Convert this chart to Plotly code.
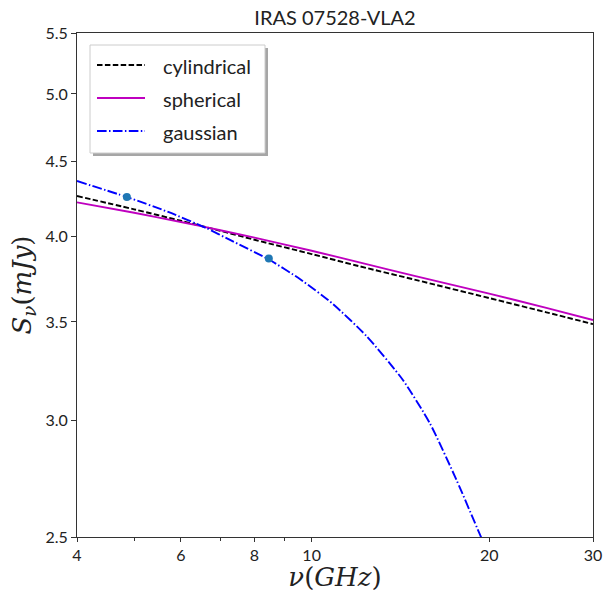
import plotly.graph_objects as go

# ---- data ----
freq_cyl = [4, 5, 6, 7, 8, 10, 12, 15, 20, 25, 30]
flux_cyl = [4.262, 4.174, 4.100, 4.036, 3.980, 3.892, 3.820, 3.738, 3.633, 3.553, 3.488]

freq_sph = [4, 5, 6, 7, 8, 10, 12, 15, 20, 25, 30]
flux_sph = [4.220, 4.152, 4.092, 4.040, 3.993, 3.912, 3.843, 3.760, 3.658, 3.578, 3.510]

freq_gau = [4.0, 4.86, 5.71, 6.64, 7.27, 8.46, 9.55, 10.87, 12.39, 14.29, 15.87, 17.60, 19.28, 19.8]
flux_gau = [4.363, 4.255, 4.157, 4.052, 3.979, 3.859, 3.743, 3.599, 3.423, 3.195, 2.986, 2.734, 2.511, 2.45]

freq_obs = [4.86, 8.46]
flux_obs = [4.255, 3.865]

x_tickvals = [4, 6, 8, 10, 20, 30]
x_ticktext = ["4", "6", "8", "10", "20", "30"]
x_minorvals = [5, 7, 9]
y_tickvals = [2.5, 3.0, 3.5, 4.0, 4.5, 5.0, 5.5]
y_ticktext = ["2.5", "3.0", "3.5", "4.0", "4.5", "5.0", "5.5"]

title_text = "IRAS 07528-VLA2"
legend_names = ["cylindrical", "spherical", "gaussian"]
legend_colors = ["black", "#bf00bf", "#0000ff"]
legend_dashes = ["5.5px,2.4px", "solid", "9.6px,2.4px,1.5px,2.4px"]

FONT = "Lato, sans-serif"
W, H = 605, 592
ML, MR, MT, MB = 77, 12, 33, 55
PW, PH = W - ML - MR, H - MT - MB


def px(x):
    return (x - ML) / PW


def py(y):
    return (H - MB - y) / PH


fig = go.Figure()
fig.add_trace(go.Scatter(x=freq_cyl, y=flux_cyl, mode="lines", name=legend_names[0],
                         line=dict(color=legend_colors[0], width=1.9, dash=legend_dashes[0],
                                   shape="spline", smoothing=0.8)))
fig.add_trace(go.Scatter(x=freq_sph, y=flux_sph, mode="lines", name=legend_names[1],
                         line=dict(color=legend_colors[1], width=1.9,
                                   shape="spline", smoothing=0.8)))
fig.add_trace(go.Scatter(x=freq_gau, y=flux_gau, mode="lines", name=legend_names[2],
                         line=dict(color=legend_colors[2], width=1.9, dash=legend_dashes[2],
                                   shape="spline", smoothing=0.6)))
fig.add_trace(go.Scatter(x=freq_obs, y=flux_obs, mode="markers", showlegend=False,
                         marker=dict(color="#1f77b4", size=8)))

# hand-drawn legend box (matplotlib style with shadow)
shapes = [
    dict(type="rect", xref="paper", yref="paper", x0=px(93), x1=px(268), y0=py(156), y1=py(48),
         fillcolor="rgba(0,0,0,0.35)", line=dict(width=0), layer="above"),
    dict(type="rect", xref="paper", yref="paper", x0=px(90), x1=px(265), y0=py(153), y1=py(45),
         fillcolor="white", line=dict(color="#cccccc", width=1), layer="above"),
]
annotations = []
rows = [65, 98, 131]
for name, col, dsh, r in zip(legend_names, legend_colors, legend_dashes, rows):
    shapes.append(dict(type="line", xref="paper", yref="paper", x0=px(97), x1=px(145),
                       y0=py(r), y1=py(r), line=dict(color=col, width=1.9, dash=dsh), layer="above"))
    annotations.append(dict(text=name, xref="paper", yref="paper", x=px(161), y=py(r + 1),
                            xanchor="left", yanchor="middle", showarrow=False,
                            font=dict(size=20, family=FONT, color="#222")))

fig.update_layout(
    autosize=True,
    margin=dict(l=ML, r=MR, t=MT, b=MB, autoexpand=False),
    paper_bgcolor="white", plot_bgcolor="white",
    font=dict(family=FONT, size=16, color="#222"),
    title=dict(text=title_text, x=(ML + PW / 2) / W, xanchor="center",
               y=1 - 18 / H, yanchor="middle", font=dict(size=20, family=FONT, color="#222")),
    showlegend=False,
    shapes=shapes,
    annotations=annotations,
)

fig.update_xaxes(type="log", range=[0.60206, 1.47712],
                 tickvals=x_tickvals, ticktext=x_ticktext,
                 ticks="outside", ticklen=4, tickcolor="#333",
                 minor=dict(tickvals=x_minorvals, ticks="outside", ticklen=3, tickcolor="#333",
                            showgrid=False),
                 showline=True, linecolor="#333", linewidth=1, mirror=True,
                 showgrid=False, zeroline=False,
                 tickfont=dict(size=16, family=FONT, color="#222"),
                 title=dict(text="<i>ν</i>(<i>GHz</i>)", standoff=4,
                            font=dict(size=26, family="DejaVu Serif, serif", color="#222")))
fig.update_yaxes(type="log", range=[0.39794, 0.74036],
                 tickvals=y_tickvals, ticktext=y_ticktext,
                 ticks="outside", ticklen=5, tickcolor="#333",
                 showline=True, linecolor="#333", linewidth=1, mirror=True,
                 showgrid=False, zeroline=False,
                 tickfont=dict(size=16, family=FONT, color="#222"),
                 title=dict(text="<i>S</i><sub><i>ν</i></sub>(<i>mJy</i>)", standoff=6,
                            font=dict(size=26, family="DejaVu Serif, serif", color="#222")))

fig.write_html("out.html", default_width="100vw", default_height="100vh")
